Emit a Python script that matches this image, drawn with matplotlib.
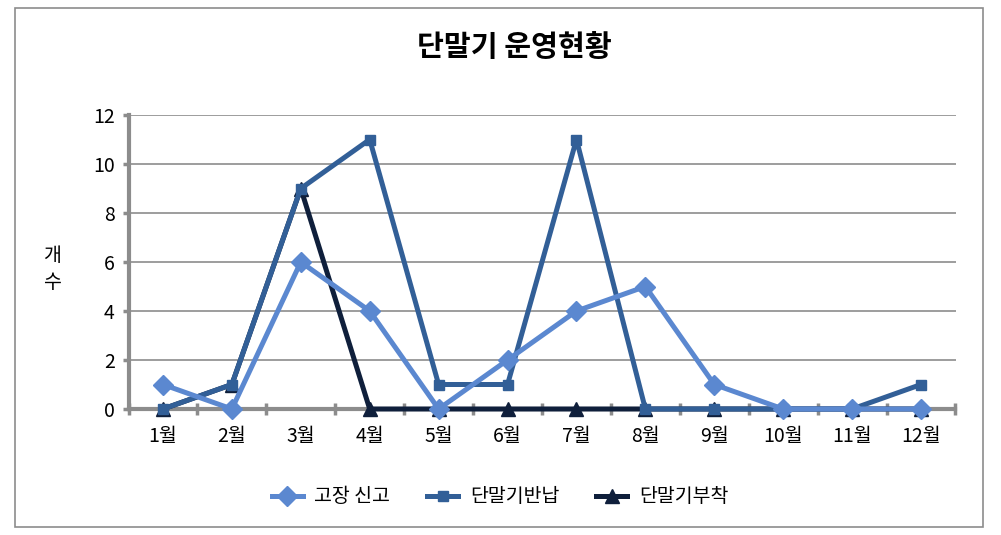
import numpy as np
import matplotlib
matplotlib.use('Agg')
import matplotlib.pyplot as plt
from matplotlib.patches import Rectangle

plt.rcParams['font.family'] = ['Noto Sans CJK KR', 'DejaVu Sans']

# data
months = ['1월', '2월', '3월', '4월', '5월', '6월', '7월', '8월', '9월', '10월', '11월', '12월']
report = [1, 0, 6, 4, 0, 2, 4, 5, 1, 0, 0, 0]      # 고장 신고
returned = [0, 1, 9, 11, 1, 1, 11, 0, 0, 0, 0, 1]  # 단말기반납
attached = [0, 1, 9, 0, 0, 0, 0, 0, 0, 0, 0, 0]    # 단말기부착
yticks = [0, 2, 4, 6, 8, 10, 12]

c_light = '#5B88D0'
c_mid = '#325F97'
c_dark = '#0F1F3B'
c_axis = '#8C8C8C'

fig = plt.figure(figsize=(10.01, 5.35), dpi=100)
W, H = 1001, 535

# outer chart frame
fig.patches.append(Rectangle((15 / W, 1 - 527 / H), (983 - 15) / W, (527 - 8) / H,
                             transform=fig.transFigure, fill=False,
                             edgecolor='#8C8C8C', linewidth=1.2))

ax = fig.add_axes([128.5 / W, 1 - 409 / H, (955.5 - 128.5) / W, (409 - 115) / H])
x = np.arange(len(months))

ax.plot(x, attached, color=c_dark, linewidth=3.6, marker='^', markersize=10,
        markerfacecolor=c_dark, markeredgecolor=c_dark, label='단말기부착', zorder=3,
        clip_on=False)
ax.plot(x, returned, color=c_mid, linewidth=3.6, marker='s', markersize=6.5,
        markerfacecolor=c_mid, markeredgecolor=c_mid, label='단말기반납', zorder=4,
        clip_on=False)
ax.plot(x, report, color=c_light, linewidth=3.6, marker='D', markersize=10,
        markerfacecolor=c_light, markeredgecolor=c_light, label='고장 신고', zorder=5,
        clip_on=False)

ax.set_xlim(-0.5, len(months) - 0.5)
ax.set_ylim(0, 12)
ax.set_yticks(yticks)
ax.set_yticklabels([str(v) for v in yticks], fontsize=14)
ax.set_xticks(x)
ax.set_xticklabels(months, fontsize=14)
ax.set_xticks(np.arange(-0.5, len(months)), minor=True)

ax.yaxis.grid(True, color='#8C8C8C', linewidth=1.2)
ax.set_axisbelow(True)
for s in ['top', 'right']:
    ax.spines[s].set_visible(False)
for s in ['left', 'bottom']:
    ax.spines[s].set_color(c_axis)
    ax.spines[s].set_linewidth(3)
    ax.spines[s].set_zorder(2)

ax.tick_params(axis='y', direction='out', length=4, width=2.5, color=c_axis, pad=6)
ax.tick_params(axis='x', which='major', length=0, pad=12)
ax.tick_params(axis='x', which='minor', direction='inout', length=8, width=2.5, color=c_axis)

fig.text(52 / W, 1 - 269 / H, '개\n수', fontsize=14, ha='center', va='center',
         linespacing=1.35)

fig.text(514 / W, 1 - 47 / H, '단말기 운영현황', fontsize=21, fontweight='bold',
         ha='center', va='center')

h, l = ax.get_legend_handles_labels()
order = [2, 1, 0]
fig.legend([h[i] for i in order], [l[i] for i in order], loc='center',
           bbox_to_anchor=(500 / W, 1 - 497 / H), ncol=3, frameon=False,
           fontsize=14, handlelength=1.6, columnspacing=1.9, handletextpad=0.6)

fig.savefig('out.png', dpi=100)
